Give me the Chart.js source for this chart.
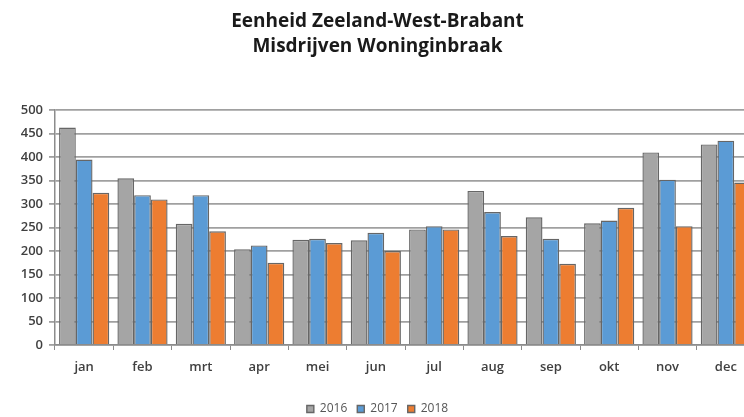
<!DOCTYPE html>
<html>
<head>
<meta charset="utf-8">
<script src="https://cdn.jsdelivr.net/npm/chart.js@4/dist/chart.umd.min.js"></script>
<style>
  html, body { margin: 0; padding: 0; background: #fff; overflow: hidden; }
  #wrap { width: 760px; height: 417px; }
</style>
</head>
<body>
<div id="wrap"><canvas id="chart" width="760" height="417"></canvas></div>
<script>
const months = ["jan", "feb", "mrt", "apr", "mei", "jun", "jul", "aug", "sep", "okt", "nov", "dec"];
const years = ["2016", "2017", "2018"];

const data2016 = [463, 355, 258, 204, 224, 223, 246, 328, 272, 259, 410, 427];
const data2017 = [395, 319, 319, 212, 226, 239, 253, 283, 226, 265, 352, 435];
const data2018 = [324, 310, 242, 175, 217, 200, 246, 232, 173, 292, 253, 346];

const colors = ["#a5a5a5", "#5b9bd5", "#ed7d31"];
const seriesData = [data2016, data2017, data2018];

const chart = new Chart(document.getElementById("chart"), {
    type: "bar",
    data: {
        labels: months,
        datasets: years.map((y, i) => ({
            label: y,
            data: seriesData[i],
            backgroundColor: colors[i],
            borderColor: "#666",
            borderWidth: 1.4
        }))
    },
    options: {
        responsive: false,
        animation: false,
        layout: { padding: { left: 0, right: 5, top: 9, bottom: -8 } },
        datasets: {
            bar: { categoryPercentage: 0.86, barPercentage: 1 }
        },
        plugins: {
            title: {
                display: true,
                text: ["Eenheid Zeeland-West-Brabant", "Misdrijven Woninginbraak"],
                color: "#1a1a1a",
                font: { family: "Open Sans", size: 19, weight: "bold", lineHeight: 1.32 },
                padding: { top: 0, bottom: 51 }
            },
            legend: {
                position: "bottom",
                labels: {
                    boxWidth: 7,
                    boxHeight: 7,
                    padding: 10,
                    color: "#555",
                    font: { family: "Open Sans", size: 12 }
                }
            },
            tooltip: { enabled: false }
        },
        scales: {
            x: {
                grid: {
                    offset: true,
                    drawOnChartArea: false,
                    drawTicks: true,
                    tickLength: 5,
                    color: "#8c8c8c"
                },
                border: { color: "#8c8c8c", width: 1.5 },
                ticks: {
                    color: "#404040",
                    font: { family: "Open Sans", size: 13, weight: 600 },
                    padding: 9
                },
                afterFit: (s) => { s.height = 48; }
            },
            y: {
                min: 0,
                max: 500,
                ticks: {
                    stepSize: 50,
                    color: "#404040",
                    font: { family: "Open Sans", size: 13, weight: 600 },
                    padding: 6
                },
                grid: {
                    color: "#a0a0a0",
                    lineWidth: 1.8,
                    tickLength: 6
                },
                border: { color: "#8c8c8c", width: 1.5 },
                afterFit: (s) => { s.width = 55; }
            }
        }
    }
});
</script>
</body>
</html>
